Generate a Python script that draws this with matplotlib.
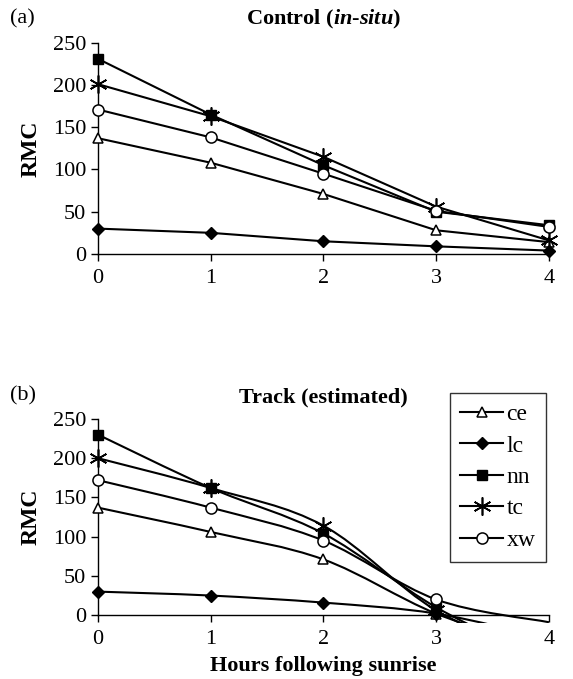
import numpy as np
import matplotlib
matplotlib.use('Agg')
import matplotlib.pyplot as plt
from matplotlib.path import Path
from matplotlib.patches import PathPatch, Rectangle
from matplotlib.lines import Line2D

plt.rcParams['font.family'] = ['Liberation Serif', 'DejaVu Serif']
plt.rcParams['mathtext.fontset'] = 'custom'
plt.rcParams['mathtext.it'] = 'Liberation Serif:italic:bold'
plt.rcParams['mathtext.rm'] = 'Liberation Serif:bold'

hours = [0, 1, 2, 3, 4]
series = ['ce', 'lc', 'nn', 'tc', 'xw']

# panel (a) control, in-situ
ctrl_ce = [137, 108, 71, 28, 14]
ctrl_lc = [30, 25, 15, 9, 4]
ctrl_nn = [231, 165, 105, 50, 34]
ctrl_tc = [201, 163, 115, 56, 16]
ctrl_xw = [171, 138, 95, 51, 32]

# panel (b) track, estimated
trk_ce = [137, 106, 71, 2, -45]
trk_lc = [30, 25, 16, 2, -30]
trk_nn = [230, 162, 104, 10, -60]
trk_tc = [200, 162, 114, 6, -55]
trk_xw = [172, 137, 95, 20, -9]

markers = {
    'ce': dict(marker='^', ms=7, mfc='white', mec='black', mew=1.1),
    'lc': dict(marker='D', ms=6, mfc='black', mec='black'),
    'nn': dict(marker='s', ms=6.5, mfc='black', mec='black'),
    'tc': dict(marker=(6, 2, 0), ms=13, mfc='black', mec='black', mew=1.2),
    'xw': dict(marker='o', ms=8, mfc='white', mec='black', mew=1.1),
}
LW = 1.5


def smooth_path(x, y):
    # excel style smoothed line as cubic bezier segments
    n = len(x)
    verts = [(x[0], y[0])]
    codes = [Path.MOVETO]
    for i in range(n - 1):
        a = i - 1 if i > 0 else i
        b = i + 2 if i + 2 < n else i + 1
        c1 = (x[i] + (x[i + 1] - x[a]) / 6, y[i] + (y[i + 1] - y[a]) / 6)
        c2 = (x[i + 1] - (x[b] - x[i]) / 6, y[i + 1] - (y[b] - y[i]) / 6)
        verts += [c1, c2, (x[i + 1], y[i + 1])]
        codes += [Path.CURVE4] * 3
    return Path(verts, codes)


def style_axes(ax):
    ax.set_xlim(0, 4)
    ax.set_ylim(0, 250)
    ax.set_xticks(hours)
    ax.set_yticks([0, 50, 100, 150, 200, 250])
    for s in ['top', 'right']:
        ax.spines[s].set_visible(False)
    for s in ['left', 'bottom']:
        ax.spines[s].set_linewidth(1.0)
    ax.tick_params(axis='both', direction='out', length=5, width=1.0, labelsize=16)
    ax.tick_params(axis='x', pad=6)
    ax.set_ylabel('RMC', fontsize=17, fontweight='bold', labelpad=8)


fig = plt.figure(figsize=(5.73, 6.79), dpi=100)
ax1 = fig.add_axes([0.171, 0.626, 0.787, 0.311])
ax2 = fig.add_axes([0.171, 0.094, 0.787, 0.289])

ctrl = [ctrl_ce, ctrl_lc, ctrl_nn, ctrl_tc, ctrl_xw]
trk = [trk_ce, trk_lc, trk_nn, trk_tc, trk_xw]

for name, vals in zip(series, ctrl):
    ax1.plot(hours, vals, color='black', lw=LW, clip_on=False, zorder=3, **markers[name])

clip = Rectangle((0, -10), 4, 270, transform=ax2.transData)
for name, vals in zip(series, trk):
    p = PathPatch(smooth_path(hours, vals), fill=False, ec='black', lw=LW, zorder=3)
    ax2.add_patch(p)
    p.set_clip_path(clip)
    ax2.plot(hours[:4], vals[:4], ls='none', clip_on=False, zorder=4, **markers[name])

style_axes(ax1)
style_axes(ax2)

ax1.set_title(r'Control ($\mathit{in}$-$\mathit{situ}$)', fontsize=16, fontweight='bold', pad=13)
ax2.set_title('Track (estimated)', fontsize=16, fontweight='bold', pad=12)
ax2.set_xlabel('Hours following sunrise', fontsize=16, fontweight='bold', labelpad=5)

fig.text(0.018, 0.972, '(a)', fontsize=16, va='center')
fig.text(0.018, 0.417, '(b)', fontsize=16, va='center')

handles = [Line2D([0], [0], color='black', lw=LW, **markers[n]) for n in series]
leg = fig.legend(handles, series, loc='upper right',
                 bbox_to_anchor=(546 / 573, 1 - 393 / 679), fontsize=17,
                 frameon=True, fancybox=False, edgecolor='black',
                 handlelength=1.8, handletextpad=0.15, labelspacing=0.42,
                 borderpad=0.45, borderaxespad=0)
leg.get_frame().set_linewidth(1.0)

fig.savefig('out.png', dpi=100)
